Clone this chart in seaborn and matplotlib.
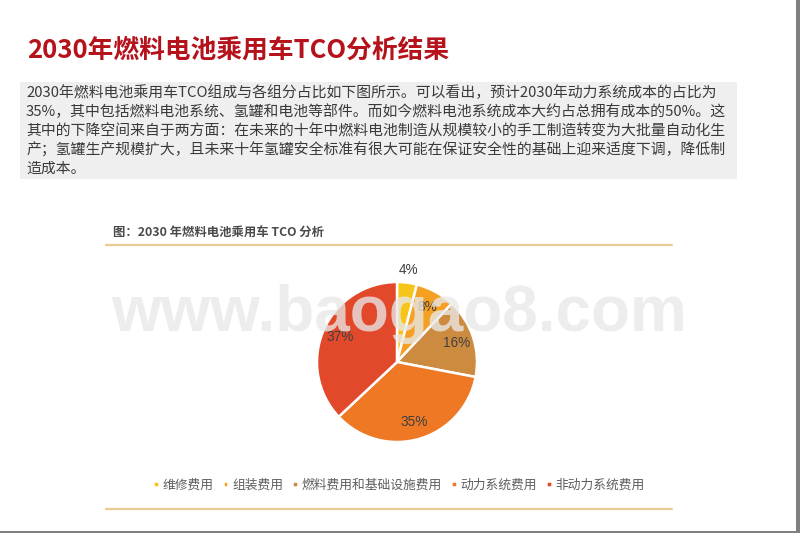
import seaborn as sns
import matplotlib.pyplot as plt
import numpy as np
from matplotlib.patches import Rectangle
from matplotlib.lines import Line2D

# data
categories = ['维修费用', '组装费用', '燃料费用和基础设施费用', '动力系统费用', '非动力系统费用']
shares = [4, 8, 16, 35, 37]
colors = ['#F7C51A', '#F5A023', '#CD8B40', '#EE7824', '#E2492A']

page_title = '2030年燃料电池乘用车TCO分析结果'
chart_title = '图：2030 年燃料电池乘用车 TCO 分析'
body_lines = [
    '2030年燃料电池乘用车TCO组成与各组分占比如下图所示。可以看出，预计2030年动力系统成本的占比为',
    '35%，其中包括燃料电池系统、氢罐和电池等部件。而如今燃料电池系统成本大约占总拥有成本的50%。这',
    '其中的下降空间来自于两方面：在未来的十年中燃料电池制造从规模较小的手工制造转变为大批量自动化生',
    '产；氢罐生产规模扩大，且未来十年氢罐安全标准有很大可能在保证安全性的基础上迎来适度下调，降低制',
    '造成本。',
]

sns.set_theme(style='white')
plt.rcParams['font.family'] = ['Noto Sans CJK SC', 'DejaVu Sans']

W, H = 800, 533
fig = plt.figure(figsize=(8, 5.33), dpi=100)
fig.patch.set_facecolor('white')


def fx(x):
    return x / W


def fy(y):
    return 1 - y / H


# page title
fig.text(fx(27), fy(50), page_title, fontsize=18.5, fontweight='bold',
         color='#B5121B', va='center', ha='left')

# grey text box
fig.patches.append(Rectangle((fx(20), fy(179)), fx(737) - fx(20), fy(82) - fy(179),
                             transform=fig.transFigure, facecolor='#EFEFEF',
                             edgecolor='none', zorder=0))
for i, line in enumerate(body_lines):
    fig.text(fx(26), fy(93 + i * 19), line, fontsize=10.7, color='#3A3A3A',
             va='center', ha='left')

# chart title and rules
fig.text(fx(113), fy(233), chart_title, fontsize=8.9, fontweight='bold',
         color='#4A4A4A', va='center', ha='left')
for yy in (245, 509):
    fig.lines.append(Line2D([fx(106), fx(672)], [fy(yy), fy(yy)],
                            transform=fig.transFigure, color='#EBCB94', lw=1.6))

# pie
ax = fig.add_axes([fx(317), fy(442), fx(160), 160 / H])
wedges, _ = ax.pie(shares, colors=colors, startangle=90, counterclock=False,
                   wedgeprops=dict(edgecolor='white', linewidth=1.8))
ax.set_xlim(-1, 1)
ax.set_ylim(-1, 1)
ax.set_aspect('equal')
for w, v in zip(wedges, shares):
    mid = np.deg2rad((w.theta1 + w.theta2) / 2)
    r = 1.16 if v < 5 else 0.78
    ax.text(r * np.cos(mid), r * np.sin(mid), f'{v}%', fontsize=9.8,
            color='#404040', ha='center', va='center',
            family=['Liberation Sans', 'DejaVu Sans'])

# watermark
fig.text(fx(111), fy(331), 'www.baogao8.com', fontsize=46, fontweight='bold',
         color='#E8E8E8', alpha=0.78, ha='left', va='baseline',
         family=['Liberation Sans', 'DejaVu Sans'], zorder=10)

# legend
fig.legend(wedges, categories, loc='center', bbox_to_anchor=(fx(399), fy(485)),
           ncol=5, frameon=False, fontsize=9.2, labelcolor='#5E5E5E',
           handlelength=0.45, handleheight=0.45, handletextpad=0.3,
           columnspacing=0.7)

# page border
fig.patches.append(Rectangle((fx(796), 0), fx(4), 1, transform=fig.transFigure,
                             facecolor='#808080', edgecolor='none'))
fig.patches.append(Rectangle((0, 0), 1, 2 / H, transform=fig.transFigure,
                             facecolor='#808080', edgecolor='none'))

fig.savefig('out.png', dpi=100)
